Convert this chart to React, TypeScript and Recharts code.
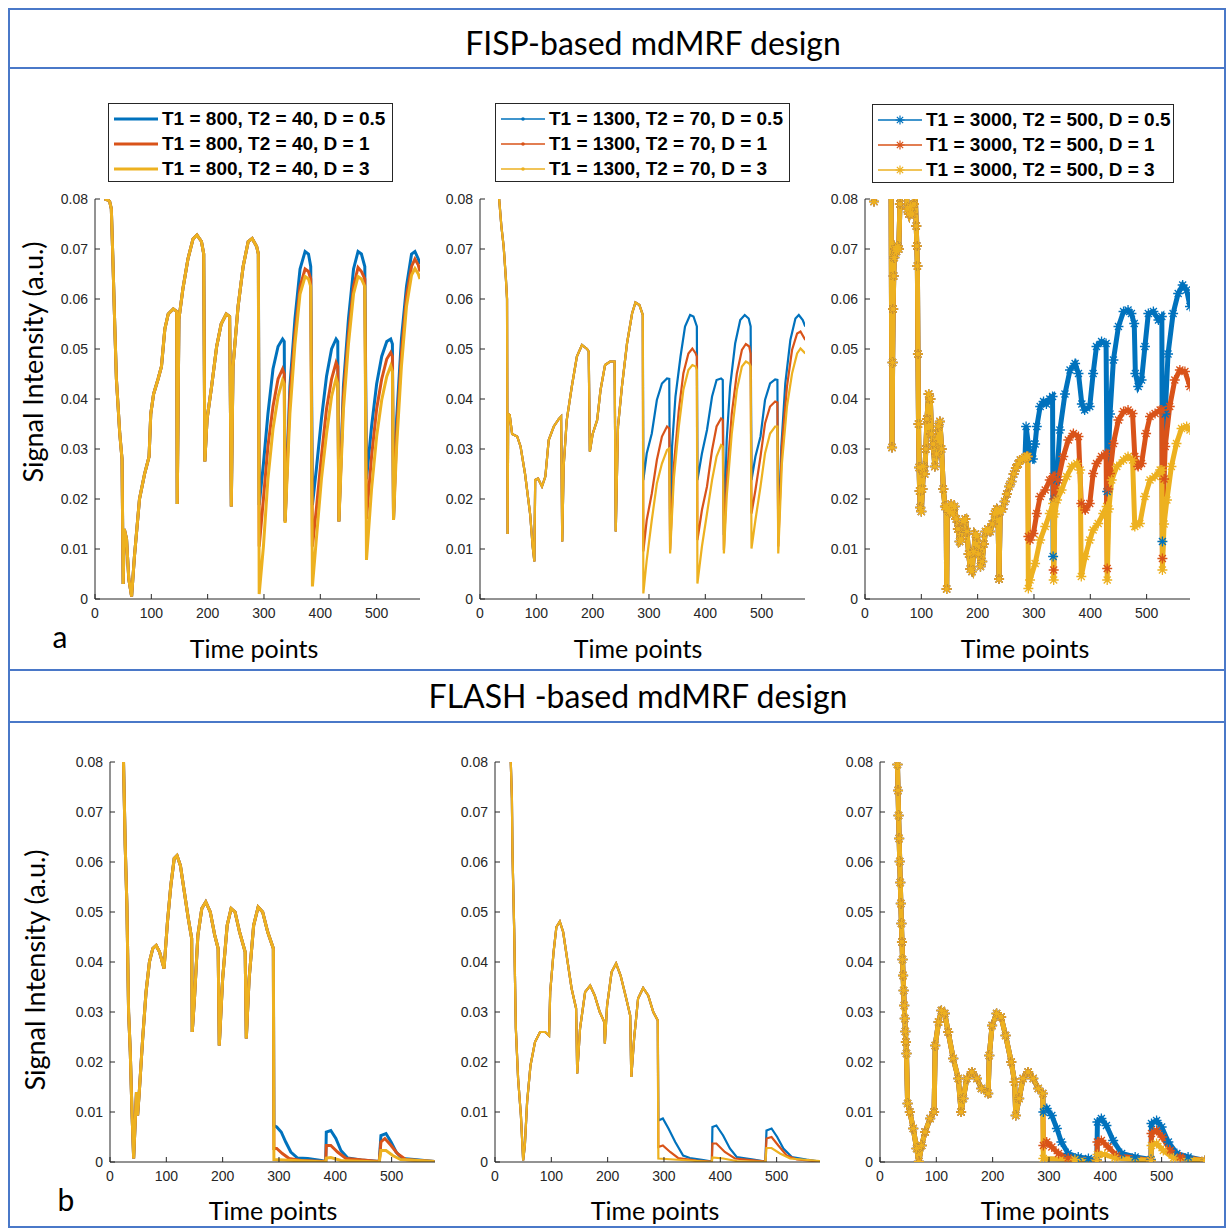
import React from "react";
import { LineChart, Line, XAxis, YAxis } from "recharts";

type Pt = [number, number];

const xTicks = [0, 100, 200, 300, 400, 500];
const yTicks = [0, 0.01, 0.02, 0.03, 0.04, 0.05, 0.06, 0.07, 0.08];

const legend800 = ["T1 = 800, T2 = 40, D = 0.5", "T1 = 800, T2 = 40, D = 1", "T1 = 800, T2 = 40, D = 3"];
const legend1300 = ["T1 = 1300, T2 = 70, D = 0.5", "T1 = 1300, T2 = 70, D = 1", "T1 = 1300, T2 = 70, D = 3"];
const legend3000 = ["T1 = 3000, T2 = 500, D = 0.5", "T1 = 3000, T2 = 500, D = 1", "T1 = 3000, T2 = 500, D = 3"];

// ---------- FISP, T1 = 800 ----------
const fisp800Common: Pt[] = [
  [17, 0.08], [23, 0.0798], [26, 0.0795], [29, 0.078], [32, 0.067], [35, 0.055], [38, 0.044], [44, 0.033],
  [48, 0.028], [50, 0.003], [52, 0.014], [56, 0.012], [60, 0.004], [65, 0.0005], [70, 0.0085], [79, 0.02],
  [88, 0.025], [96, 0.0285], [99, 0.037], [104, 0.041], [112, 0.044], [118, 0.0465], [124, 0.054], [130, 0.057],
  [139, 0.058], [145, 0.0575], [146, 0.019], [149, 0.056], [156, 0.062], [165, 0.068], [174, 0.072], [181, 0.0728],
  [189, 0.0715], [193, 0.069], [195, 0.0275], [199, 0.036], [207, 0.0425], [216, 0.0505], [224, 0.055], [233, 0.057],
  [239, 0.0565], [242, 0.0185], [245, 0.0465], [254, 0.0585], [263, 0.0665], [272, 0.0715], [279, 0.0721],
  [287, 0.0705], [290, 0.069],
];
const fisp800D05: Pt[] = [
  [291.5, 0.0188], [299, 0.027], [307, 0.037], [316, 0.046], [325, 0.0505], [333, 0.052], [336, 0.0515],
  [337.5, 0.0155], [346, 0.0425], [355, 0.056], [364, 0.066], [373, 0.0695], [379, 0.069], [383, 0.0665],
  [386, 0.0188], [393, 0.026], [402, 0.036], [411, 0.0445], [420, 0.05], [428, 0.052], [431, 0.0515],
  [433, 0.0155], [441, 0.0425], [450, 0.056], [459, 0.066], [467, 0.0695], [473, 0.069], [479, 0.0665],
  [482, 0.024], [491, 0.0345], [500, 0.043], [509, 0.0485], [518, 0.0515], [525, 0.052], [528, 0.051],
  [530, 0.016], [535.5, 0.036], [544, 0.052], [553, 0.0625], [562, 0.069], [568, 0.0695], [574, 0.068], [577, 0.067],
];
const fisp800D1: Pt[] = [
  [291.5, 0.0105], [299, 0.02], [307, 0.0305], [316, 0.0385], [325, 0.044], [333, 0.046], [336, 0.045],
  [337.5, 0.0155], [346, 0.0405], [355, 0.053], [364, 0.0625], [373, 0.066], [379, 0.0655], [383, 0.064],
  [386, 0.0105], [393, 0.018], [402, 0.0285], [411, 0.038], [420, 0.044], [428, 0.0473], [431, 0.0465],
  [433, 0.0155], [441, 0.0405], [450, 0.053], [459, 0.0625], [467, 0.0663], [473, 0.0655], [479, 0.064],
  [482, 0.016], [491, 0.0285], [500, 0.038], [509, 0.044], [518, 0.048], [525, 0.0493], [528, 0.0485],
  [530, 0.016], [535.5, 0.033], [544, 0.049], [553, 0.0605], [562, 0.0665], [568, 0.068], [574, 0.0668], [577, 0.0655],
];
const fisp800D3: Pt[] = [
  [291.5, 0.001], [299, 0.0105], [307, 0.024], [316, 0.034], [325, 0.0405], [333, 0.0438], [336, 0.043],
  [337.5, 0.0152], [346, 0.037], [355, 0.051], [364, 0.061], [373, 0.0645], [379, 0.064], [383, 0.0625],
  [386, 0.0025], [393, 0.012], [402, 0.024], [411, 0.033], [420, 0.0405], [428, 0.0441], [431, 0.043],
  [433, 0.0155], [441, 0.0378], [450, 0.051], [459, 0.061], [467, 0.0645], [473, 0.064], [479, 0.0625],
  [482, 0.0078], [491, 0.022], [500, 0.0325], [509, 0.0398], [518, 0.0445], [525, 0.0466], [528, 0.0455],
  [530, 0.0158], [535.5, 0.0305], [544, 0.0465], [553, 0.0585], [562, 0.0648], [568, 0.0661], [574, 0.065], [577, 0.064],
];

// ---------- FISP, T1 = 1300 ----------
const fisp1300Common: Pt[] = [
  [34, 0.08], [38, 0.0745], [42, 0.0705], [46, 0.064], [48, 0.06], [49, 0.013], [50, 0.037], [52.7, 0.0368],
  [57, 0.033], [66, 0.0325], [72, 0.0305], [80, 0.025], [89, 0.017], [93.5, 0.0105], [96.5, 0.0075], [98, 0.0238],
  [103, 0.0241], [110, 0.0225], [116, 0.0245], [122, 0.0318], [131, 0.0345], [140, 0.036], [144, 0.0365],
  [146, 0.0115], [148.5, 0.0265], [154, 0.0358], [163, 0.0425], [172, 0.0485], [181, 0.0508], [190, 0.05],
  [193, 0.0495], [195, 0.0295], [200, 0.033], [208, 0.0358], [214, 0.0418], [222, 0.0468], [231, 0.0475],
  [239, 0.0475], [241, 0.0135], [245, 0.0345], [252, 0.0425], [261, 0.0511], [270, 0.0571], [276, 0.0593],
  [283, 0.0588], [289, 0.0568],
];
const fisp1300D05: Pt[] = [
  [290, 0.0238], [296, 0.0291], [305, 0.0331], [314, 0.0398], [323, 0.0431], [332, 0.0441], [336, 0.044],
  [337.5, 0.013], [341, 0.0305], [347, 0.0405], [356, 0.0485], [364, 0.0545], [373, 0.0568], [379, 0.0565],
  [385, 0.0545], [386, 0.0238], [394, 0.0291], [403, 0.0338], [412, 0.0405], [420, 0.0438], [428, 0.0441],
  [431, 0.0438], [433, 0.0128], [438, 0.0318], [444, 0.0425], [453, 0.0511], [462, 0.0558], [470, 0.0568],
  [477, 0.0561], [480.5, 0.0545], [482, 0.0238], [489, 0.0285], [498, 0.0325], [506, 0.0398], [515, 0.0431],
  [524, 0.0439], [528, 0.0438], [529.5, 0.0128], [535, 0.0305], [542, 0.0431], [551, 0.0518], [560, 0.0561],
  [566, 0.0568], [573, 0.0558], [577.5, 0.0545],
];
const fisp1300D1: Pt[] = [
  [290, 0.0095], [296, 0.0158], [305, 0.0211], [314, 0.0278], [323, 0.0325], [332, 0.0345], [336, 0.0341],
  [337.5, 0.0098], [344, 0.0265], [353, 0.0378], [361, 0.0451], [370, 0.0491], [377, 0.0501], [383, 0.0491],
  [385, 0.0485], [386, 0.0118], [394, 0.0178], [403, 0.0225], [412, 0.0298], [420, 0.0345], [428, 0.0361],
  [431, 0.0358], [433, 0.0098], [438, 0.0238], [447, 0.0371], [456, 0.0451], [465, 0.0498], [472, 0.051],
  [478, 0.0505], [480.5, 0.0491], [482, 0.0171], [489, 0.0218], [498, 0.0285], [506, 0.0351], [515, 0.0385],
  [524, 0.0395], [528, 0.0393], [529.5, 0.0105], [536, 0.0305], [545, 0.0425], [554, 0.0498], [563, 0.0531],
  [569, 0.0535], [577.5, 0.0518],
];
const fisp1300D3: Pt[] = [
  [290, 0.0011], [296, 0.0078], [305, 0.0158], [314, 0.0231], [323, 0.0271], [332, 0.0298], [336, 0.0301],
  [337.5, 0.0091], [344, 0.0238], [353, 0.0345], [361, 0.0418], [370, 0.0458], [377, 0.0468], [383, 0.0465],
  [385, 0.0458], [386, 0.0031], [394, 0.0105], [403, 0.0171], [412, 0.0238], [420, 0.0285], [428, 0.0308],
  [431, 0.0305], [433, 0.0091], [438, 0.0205], [447, 0.0331], [456, 0.0418], [465, 0.0465], [472, 0.0475],
  [478, 0.0471], [480.5, 0.0465], [482, 0.0101], [489, 0.0158], [498, 0.0225], [506, 0.0291], [515, 0.0331],
  [524, 0.0345], [528, 0.0345], [529.5, 0.0091], [536, 0.0271], [545, 0.0385], [554, 0.0451], [563, 0.0491],
  [569, 0.0501], [577.5, 0.0491],
];

// ---------- FISP, T1 = 3000 ----------
const fisp3000Common: Pt[] = [
  [16, 0.0795], [19, 0.09], [46, 0.09], [48, 0.0303], [49, 0.0473], [50, 0.058], [51, 0.0646], [52, 0.0683],
  [54, 0.07], [56, 0.0695], [58, 0.0705], [60, 0.07], [62, 0.079], [64, 0.086], [72, 0.086], [75, 0.078],
  [78, 0.077], [81, 0.0785], [84, 0.077], [87, 0.079], [89, 0.0815], [91, 0.0746], [92, 0.0706], [93, 0.0666],
  [94, 0.049], [95, 0.035], [96, 0.0263], [97, 0.0216], [98, 0.0183], [100, 0.0175], [102, 0.022], [104, 0.0265],
  [106, 0.025], [108, 0.03], [110, 0.036], [113, 0.041], [116, 0.04], [118, 0.033], [121, 0.031], [124, 0.0265],
  [127, 0.029], [130, 0.0345], [133, 0.0355], [136, 0.03], [139, 0.022], [142, 0.0185], [144, 0.0185],
  [145, 0.002], [146, 0.018], [150, 0.0175], [153, 0.019], [156, 0.017], [159, 0.0185], [162, 0.016],
  [165, 0.014], [168, 0.0115], [171, 0.012], [174, 0.0155], [178, 0.016], [181, 0.0135], [184, 0.009],
  [187, 0.006], [190, 0.0055], [193, 0.0095], [196, 0.013], [199, 0.0125], [202, 0.009], [205, 0.0065],
  [208, 0.0075], [211, 0.011], [214, 0.0135], [218, 0.014], [222, 0.0135], [226, 0.015], [230, 0.017],
  [234, 0.018], [236, 0.0175], [238, 0.004], [240, 0.0175], [244, 0.018], [248, 0.0195], [252, 0.021],
  [256, 0.0225], [260, 0.0235], [264, 0.025], [268, 0.0262], [272, 0.027], [276, 0.0278], [280, 0.028],
  [284, 0.0283],
];
const fisp3000D05: Pt[] = [
  [286, 0.0345], [290, 0.031], [294, 0.0285], [298, 0.028], [302, 0.031], [305, 0.0345], [311, 0.0385],
  [317, 0.0395], [322, 0.039], [328, 0.04], [333, 0.0405], [334, 0.0085], [336, 0.02], [340, 0.0238],
  [346, 0.0338], [355, 0.041], [364, 0.0458], [373, 0.0471], [379, 0.0451], [385, 0.039], [390, 0.0378],
  [399, 0.0385], [405, 0.0451], [411, 0.0505], [420, 0.0515], [428, 0.0511], [430, 0.0215], [435, 0.037],
  [441, 0.0478], [450, 0.0545], [459, 0.0575], [467, 0.0578], [473, 0.0571], [478, 0.0551], [480, 0.0451],
  [485, 0.0425], [491, 0.0438], [497, 0.0505], [503, 0.0571], [512, 0.0575], [521, 0.0558], [527, 0.0565],
  [528, 0.0115], [533, 0.037], [538, 0.049], [547, 0.0571], [556, 0.0611], [564, 0.0628], [571, 0.0618],
  [577, 0.0585],
];
const fisp3000D1: Pt[] = [
  [287, 0.0285], [289, 0.0285], [290, 0.0125], [293, 0.0118], [299, 0.0131], [305, 0.0171], [311, 0.0205],
  [320, 0.0218], [328, 0.0238], [334, 0.0245], [335, 0.0058], [337, 0.02], [343, 0.0238], [352, 0.0285],
  [361, 0.0318], [370, 0.0331], [379, 0.0325], [384, 0.0191], [391, 0.0178], [399, 0.0191], [405, 0.0251],
  [411, 0.0271], [420, 0.0285], [428, 0.0291], [430, 0.0061], [432, 0.022], [435, 0.0251], [441, 0.0311],
  [450, 0.0358], [459, 0.0375], [467, 0.0378], [475, 0.0371], [479, 0.0285], [485, 0.0265], [491, 0.0271],
  [499, 0.0331], [506, 0.0365], [515, 0.0371], [524, 0.0378], [527, 0.0378], [528, 0.0081], [531, 0.024],
  [533, 0.0305], [541, 0.0385], [550, 0.0438], [559, 0.0458], [568, 0.0455], [577, 0.0425],
];
const fisp3000D3: Pt[] = [
  [287, 0.0285], [289, 0.0285], [290, 0.0021], [293, 0.0038], [302, 0.0071], [311, 0.0118], [320, 0.0145],
  [328, 0.0171], [334, 0.0191], [335, 0.0038], [337, 0.017], [341, 0.0198], [349, 0.0218], [358, 0.0245],
  [367, 0.0265], [376, 0.0271], [382, 0.0258], [384, 0.0045], [391, 0.0085], [399, 0.0118], [405, 0.0138],
  [414, 0.0151], [423, 0.0171], [429, 0.0185], [430, 0.0038], [433, 0.018], [438, 0.0238], [447, 0.0265],
  [459, 0.0278], [467, 0.0285], [475, 0.0278], [479, 0.0145], [488, 0.0151], [497, 0.0205], [506, 0.0238],
  [515, 0.0245], [524, 0.0258], [527, 0.0258], [528, 0.0058], [531, 0.015], [536, 0.0198], [544, 0.0265],
  [553, 0.0311], [562, 0.0341], [571, 0.0345], [577, 0.0338],
];

// ---------- FLASH, T1 = 800 ----------
const flash800Common: Pt[] = [
  [24, 0.08], [27, 0.0633], [30, 0.0513], [33, 0.03], [36, 0.022], [39, 0.01], [42, 0.0007], [45, 0.0087],
  [47, 0.014], [49, 0.0093], [52, 0.014], [58, 0.0247], [64, 0.034], [70, 0.04], [76, 0.0427], [82, 0.0433],
  [88, 0.042], [96, 0.0387], [102, 0.048], [108, 0.0553], [114, 0.0607], [119, 0.0613], [125, 0.0593],
  [132, 0.054], [139, 0.0487], [145, 0.0447], [146, 0.026], [150, 0.0327], [156, 0.0453], [163, 0.0507],
  [170, 0.052], [178, 0.05], [186, 0.0453], [192, 0.0427], [194, 0.0233], [200, 0.0367], [208, 0.0473],
  [215, 0.0507], [222, 0.05], [230, 0.046], [240, 0.042], [242, 0.0247], [247, 0.0367], [255, 0.0473],
  [263, 0.051], [271, 0.05], [280, 0.046], [290, 0.0427],
];
const flash800D05: Pt[] = [
  [291, 0.0073], [296, 0.007], [304, 0.006], [312, 0.004], [321, 0.002], [333, 0.0008], [351, 0.0007],
  [375, 0.0003], [383, 0.0001], [384, 0.006], [392, 0.0063], [401, 0.0047], [410, 0.0023], [422, 0.0008],
  [446, 0.0004], [478, 0.0001], [481, 0.0053], [490, 0.0057], [499, 0.004], [508, 0.002], [519, 0.0007],
  [540, 0.0005], [576, 0.0001],
];
const flash800D1: Pt[] = [
  [291, 0.0027], [296, 0.0027], [306, 0.0017], [318, 0.0007], [339, 0.0003], [383, 0.0001], [384, 0.0033],
  [392, 0.0033], [404, 0.002], [419, 0.0007], [478, 0.0001], [481, 0.004], [488, 0.0047], [499, 0.0033],
  [510, 0.0017], [525, 0.0005], [576, 0.0001],
];
const flash800D3: Pt[] = [
  [291, 0.0005], [327, 0.0003], [383, 0], [384, 0.0008], [392, 0.0009], [410, 0.0003], [478, 0],
  [481, 0.0023], [490, 0.0023], [502, 0.0013], [516, 0.0005], [576, 0.0001],
];

// ---------- FLASH, T1 = 1300 ----------
const flash1300Common: Pt[] = [
  [28, 0.08], [30, 0.0727], [31, 0.062], [34, 0.0467], [37, 0.0267], [41, 0.0167], [46, 0.0093], [50, 0.0003],
  [53, 0.0033], [57, 0.012], [63, 0.0193], [71, 0.024], [80, 0.026], [89, 0.026], [96, 0.0253], [98, 0.034],
  [104, 0.042], [109, 0.047], [115, 0.0481], [121, 0.046], [128, 0.0407], [136, 0.0347], [144, 0.0307],
  [146, 0.0177], [151, 0.0267], [160, 0.034], [169, 0.0353], [177, 0.0333], [186, 0.03], [194, 0.028],
  [195, 0.0237], [199, 0.0313], [207, 0.038], [215, 0.0397], [223, 0.0373], [233, 0.0327], [240, 0.0293],
  [242, 0.017], [247, 0.0247], [254, 0.0327], [263, 0.0348], [272, 0.0333], [281, 0.03], [289, 0.0283],
];
const flash1300D05: Pt[] = [
  [290, 0.0083], [298, 0.0087], [308, 0.0067], [320, 0.004], [334, 0.0013], [346, 0.0008], [370, 0.0004],
  [385, 0.0001], [386, 0.007], [393, 0.0073], [405, 0.0053], [417, 0.0027], [429, 0.001], [459, 0.0005],
  [480, 0.0001], [482, 0.0063], [491, 0.0067], [501, 0.005], [512, 0.0027], [527, 0.001], [553, 0.0005],
  [577, 0.0001],
];
const flash1300D1: Pt[] = [
  [290, 0.003], [298, 0.0033], [311, 0.002], [325, 0.0008], [358, 0.0003], [385, 0.0001], [386, 0.0037],
  [393, 0.0037], [408, 0.002], [426, 0.0007], [480, 0.0001], [482, 0.0047], [491, 0.005], [503, 0.0033],
  [518, 0.0013], [536, 0.0005], [577, 0.0001],
];
const flash1300D3: Pt[] = [
  [290, 0.0007], [346, 0.0003], [385, 0], [386, 0.0009], [405, 0.0007], [429, 0.0002], [480, 0],
  [482, 0.0028], [491, 0.0028], [506, 0.0017], [524, 0.0007], [577, 0.0002],
];

// ---------- FLASH, T1 = 3000 ----------
const flash3000Common: Pt[] = [
  [31, 0.0795], [32, 0.0743], [33, 0.0693], [34, 0.0647], [35, 0.0601], [36, 0.0559], [37, 0.0517],
  [38, 0.0477], [39, 0.044], [40, 0.0405], [41, 0.0373], [42, 0.0343], [43, 0.0313], [44, 0.0287],
  [45, 0.0261], [46, 0.024], [47, 0.0217], [49, 0.0117], [53, 0.01], [59, 0.0067], [65, 0.0027], [69, 0.0001],
  [74, 0.0033], [80, 0.006], [89, 0.0087], [96, 0.01], [98, 0.0233], [104, 0.028], [109, 0.0303],
  [115, 0.0297], [121, 0.026], [130, 0.0207], [139, 0.0167], [144, 0.01], [148, 0.0127], [154, 0.0167],
  [163, 0.018], [172, 0.0167], [180, 0.0147], [192, 0.0137], [194, 0.0213], [199, 0.0273], [207, 0.0297],
  [215, 0.029], [223, 0.0253], [233, 0.02], [239, 0.016], [241, 0.0093], [247, 0.0127], [254, 0.0167],
  [263, 0.018], [272, 0.0167], [281, 0.0147], [289, 0.0137],
];
const flash3000D05: Pt[] = [
  [290, 0.01], [296, 0.0107], [305, 0.0093], [314, 0.0067], [322, 0.004], [334, 0.0017], [352, 0.001],
  [370, 0.0007], [385, 0.0004], [386, 0.008], [393, 0.0087], [402, 0.0073], [414, 0.0043], [429, 0.0017],
  [453, 0.001], [481, 0.0005], [482, 0.0077], [491, 0.0083], [500, 0.007], [512, 0.004], [527, 0.0017],
  [547, 0.001], [577, 0.0003],
];
const flash3000D1: Pt[] = [
  [290, 0.0033], [296, 0.004], [305, 0.003], [317, 0.0017], [334, 0.0008], [385, 0.0003], [386, 0.004],
  [393, 0.0043], [405, 0.003], [420, 0.0013], [481, 0.0003], [482, 0.0057], [491, 0.0063], [501, 0.005],
  [515, 0.0023], [533, 0.001], [577, 0.0003],
];
const flash3000D3: Pt[] = [
  [290, 0.0007], [346, 0.0005], [385, 0.0003], [386, 0.0015], [399, 0.0015], [417, 0.0008], [481, 0.0003],
  [482, 0.0033], [491, 0.0037], [503, 0.0023], [521, 0.0008], [577, 0.0003],
];

const COLORS = ["#0072BD", "#D95319", "#EDB120"];
const AXIS = "#262626";
const PLOT_W = 325;
const PLOT_H = 400;
const LEFT = 60;
const TOP = 10;

type Kind = "line" | "dot" | "star";

const panels: { left: number; top: number; common: Pt[]; tails: Pt[][]; kind: Kind }[] = [
  { left: 95, top: 199, common: fisp800Common, tails: [fisp800D05, fisp800D1, fisp800D3], kind: "line" },
  { left: 480, top: 199, common: fisp1300Common, tails: [fisp1300D05, fisp1300D1, fisp1300D3], kind: "dot" },
  { left: 865, top: 199, common: fisp3000Common, tails: [fisp3000D05, fisp3000D1, fisp3000D3], kind: "star" },
  { left: 110, top: 762, common: flash800Common, tails: [flash800D05, flash800D1, flash800D3], kind: "line" },
  { left: 495, top: 762, common: flash1300Common, tails: [flash1300D05, flash1300D1, flash1300D3], kind: "dot" },
  { left: 880, top: 762, common: flash3000Common, tails: [flash3000D05, flash3000D1, flash3000D3], kind: "star" },
];

function starPath(cx: number, cy: number, r: number) {
  const d = r * 0.7;
  return `M${cx - r},${cy}H${cx + r}M${cx},${cy - r}V${cy + r}M${cx - d},${cy - d}L${cx + d},${cy + d}M${cx - d},${cy + d}L${cx + d},${cy - d}`;
}

function StarDot(props: any) {
  const { cx, cy, stroke } = props;
  if (cx == null || cy == null) return null;
  return <path d={starPath(cx, cy, 5)} stroke={stroke} strokeWidth={1.3} fill="none" />;
}

const tickStyle = { fill: AXIS, fontSize: 14, fontFamily: "'Liberation Sans', Arial, sans-serif" };

function Panel({ left, top, common, tails, kind }: { left: number; top: number; common: Pt[]; tails: Pt[][]; kind: Kind }) {
  const series = tails.map((tail) => common.concat(tail).map(([t, v]) => ({ t, v })));
  const sw = kind === "line" ? 3 : kind === "dot" ? 2.2 : 5;
  return (
    <div style={{ position: "absolute", left: left - LEFT, top: top - TOP }}>
      <LineChart width={PLOT_W + LEFT + 10} height={PLOT_H + TOP + 30} margin={{ top: TOP, right: 10, bottom: 0, left: 0 }}>
        <XAxis xAxisId="top" orientation="top" type="number" dataKey="t" domain={[0, 577]} ticks={xTicks}
          height={0} tick={false} tickSize={-5} stroke={AXIS} allowDataOverflow />
        <YAxis yAxisId="right" orientation="right" type="number" domain={[0, 0.08]} ticks={yTicks}
          width={0} tick={false} tickSize={-5} stroke={AXIS} allowDataOverflow />
        <XAxis type="number" dataKey="t" domain={[0, 577]} ticks={xTicks} height={30} tickSize={-5}
          tickMargin={14} tick={tickStyle} stroke={AXIS} allowDataOverflow />
        <YAxis type="number" domain={[0, 0.08]} ticks={yTicks} width={LEFT} tickSize={-5} tickMargin={12}
          tick={tickStyle} stroke={AXIS} allowDataOverflow />
        {series.map((d, i) => (
          <Line key={i} data={d} dataKey="v" type="linear" stroke={COLORS[i]} strokeWidth={sw}
            dot={kind === "star" ? (p: any) => <StarDot key={p.key} {...p} stroke={COLORS[i]} /> : false}
            activeDot={false} isAnimationActive={false} />
        ))}
      </LineChart>
    </div>
  );
}

function Legend({ left, top, width, labels, kind }: { left: number; top: number; width: number; labels: string[]; kind: Kind }) {
  return (
    <div style={{ position: "absolute", left, top, width, height: 79, border: `1px solid ${AXIS}`, background: "#fff", boxSizing: "border-box" }}>
      {labels.map((lab, i) => (
        <div key={i} style={{ position: "absolute", left: 4, top: 3 + i * 25, height: 24, display: "flex", alignItems: "center" }}>
          <svg width={46} height={24}>
            <line x1={1} x2={45} y1={12} y2={12} stroke={COLORS[i]} strokeWidth={kind === "line" ? 3 : 1.3} />
            {kind === "dot" && <circle cx={23} cy={12} r={1.8} fill={COLORS[i]} />}
            {kind === "star" && <path d={starPath(23, 12, 4.5)} stroke={COLORS[i]} strokeWidth={1.2} fill="none" />}
          </svg>
          <span style={{ marginLeft: 3, font: "bold 19px 'Liberation Sans', Arial, sans-serif", color: "#000", whiteSpace: "nowrap" }}>{lab}</span>
        </div>
      ))}
    </div>
  );
}

const txt = (left: number, top: number, size: number, content: string, extra: React.CSSProperties = {}) => (
  <div style={{ position: "absolute", left, top, transform: "translate(-50%, -50%)", fontFamily: "Lato, 'Open Sans', sans-serif", fontSize: size, color: "#000", whiteSpace: "nowrap", lineHeight: 1, ...extra }}>
    {content}
  </div>
);

export default function App() {
  const border = "2px solid #4a78c8";
  return (
    <div style={{ position: "absolute", left: 0, top: 0, width: 1228, height: 1230, background: "#fff", overflow: "hidden" }}>
      <div style={{ position: "absolute", left: 8, top: 8, width: 1218, height: 1220, border, boxSizing: "border-box" }} />
      <div style={{ position: "absolute", left: 8, top: 67, width: 1218, borderTop: border }} />
      <div style={{ position: "absolute", left: 8, top: 669, width: 1218, borderTop: border }} />
      <div style={{ position: "absolute", left: 8, top: 721, width: 1218, borderTop: border }} />

      {txt(653, 43, 32, "FISP-based mdMRF design")}
      {txt(638, 696, 32, "FLASH -based mdMRF design")}

      {panels.map((p, i) => (
        <Panel key={i} {...p} />
      ))}

      <Legend left={108} top={103} width={285} labels={legend800} kind="line" />
      <Legend left={495} top={103} width={295} labels={legend1300} kind="dot" />
      <Legend left={872} top={104} width={302} labels={legend3000} kind="star" />

      {txt(32, 362, 27, "Signal Intensity (a.u.)", { transform: "translate(-50%, -50%) rotate(-90deg)" })}
      {txt(34, 970, 27, "Signal Intensity (a.u.)", { transform: "translate(-50%, -50%) rotate(-90deg)" })}

      {txt(254, 648, 25, "Time points")}
      {txt(638, 648, 25, "Time points")}
      {txt(1025, 648, 25, "Time points")}
      {txt(273, 1210, 25, "Time points")}
      {txt(655, 1210, 25, "Time points")}
      {txt(1045, 1210, 25, "Time points")}

      {txt(60, 636, 30, "a")}
      {txt(66, 1199, 30, "b")}
    </div>
  );
}
